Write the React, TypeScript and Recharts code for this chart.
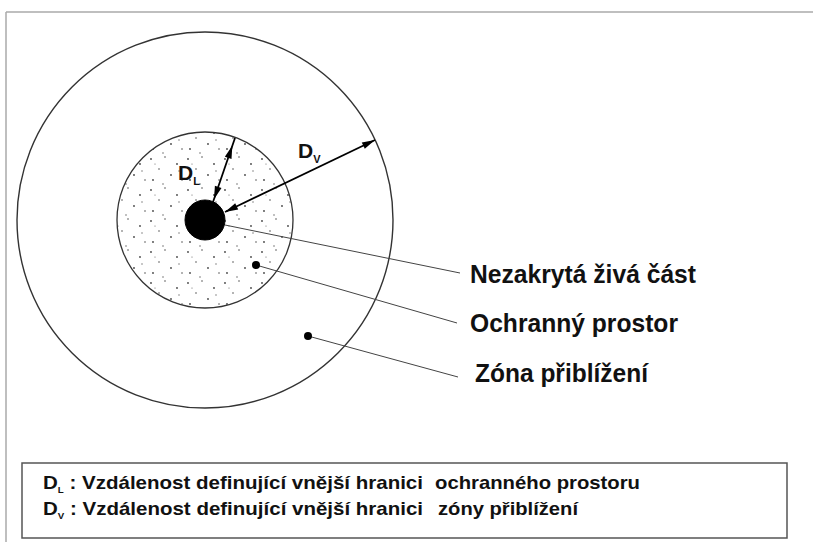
import { ScatterChart, Scatter, XAxis, YAxis, ReferenceLine, ReferenceArea } from 'recharts';

// diagram space: 1 unit = 1 px of the 813x542 picture, y runs downwards
const X_MAX = 813;
const Y_MAX = 542;
const W = 813;
const H = 542;
const unit = W / X_MAX;

const zones = [
  { name: 'Zóna přiblížení', x: 205, y: 220, r: 188 },
  { name: 'Ochranný prostor', x: 205, y: 220, r: 88 },
  { name: 'Nezakrytá živá část', x: 205, y: 220, r: 20 },
];

const dimensionArrows = [
  { id: 'DL', from: { x: 213, y: 202 }, to: { x: 235, y: 138 } },
  { id: 'DV', from: { x: 225, y: 212 }, to: { x: 375, y: 140 } },
];

const dimensionLabels = [
  { sym: 'D', sub: 'L', x: 178, y: 180 },
  { sym: 'D', sub: 'V', x: 298, y: 158 },
];

const leaders = [
  { from: { x: 225, y: 225 }, to: { x: 460, y: 273 } },
  { from: { x: 256, y: 265 }, to: { x: 457, y: 323 } },
  { from: { x: 308, y: 336 }, to: { x: 458, y: 377 } },
];

const pointerDots = [
  { x: 256, y: 265 },
  { x: 308, y: 336 },
];

const zoneLabels = [
  { text: 'Nezakrytá živá část', x: 470, y: 283 },
  { text: 'Ochranný prostor', x: 470, y: 332 },
  { text: 'Zóna přiblížení', x: 475, y: 382 },
];

const legendRows = [
  { sym: 'D', sub: 'L', desc: ' : Vzdálenost definující vnější hranici', target: 'ochranného prostoru', x: 43, y: 489 },
  { sym: 'D', sub: 'V', desc: ' : Vzdálenost definující vnější hranici', target: 'zóny přiblížení', x: 43, y: 515 },
];

const frame = [
  [{ x: 6, y: 12 }, { x: 6, y: 542 }],
  [{ x: 6, y: 12 }, { x: 813, y: 12 }],
];

const legendBox = { x1: 22, x2: 787, y1: 463, y2: 538 };

const FONT = '"Liberation Sans", Arial, Helvetica, sans-serif';
const labelWidths = [226, 208, 173];
const targetWidths = [205, 140];
const zoneStyles = [
  { fill: 'none', stroke: '#333', strokeWidth: 1.4 },
  { fill: 'url(#stipple)', stroke: '#333', strokeWidth: 1.3 },
  { fill: '#000', stroke: '#000', strokeWidth: 1 },
];
// how far each arrowhead sits back from its end: [from, to]
const arrowInset: Record<string, number[]> = { DL: [3, 8], DV: [0, 0] };

// each arrow end knows which way it points (away from the other end)
const arrowEnds = dimensionArrows.map((a) => [
  { x: a.from.x, y: a.from.y, dx: a.from.x - a.to.x, dy: a.from.y - a.to.y, inset: arrowInset[a.id][0] },
  { x: a.to.x, y: a.to.y, dx: a.to.x - a.from.x, dy: a.to.y - a.from.y, inset: arrowInset[a.id][1] },
]);

const leaderEnds = leaders.map((l) => [l.from, l.to]);

const Empty = () => <g />;

const ZoneShape = (props: any) => {
  const { cx, cy, payload, index } = props;
  const st = zoneStyles[index] || zoneStyles[0];
  return (
    <g>
      {index === 1 && (
        <defs>
          <pattern id="stipple" width="37" height="31" patternUnits="userSpaceOnUse">
            <rect width="37" height="31" fill="#fff" />
            <circle cx="3" cy="4" r="0.9" fill="#444" />
            <circle cx="17" cy="2" r="0.8" fill="#555" />
            <circle cx="29" cy="9" r="0.9" fill="#444" />
            <circle cx="11" cy="14" r="0.8" fill="#555" />
            <circle cx="23" cy="20" r="0.9" fill="#444" />
            <circle cx="34" cy="25" r="0.8" fill="#555" />
            <circle cx="5" cy="25" r="0.9" fill="#444" />
            <circle cx="15" cy="29" r="0.7" fill="#555" />
            <circle cx="31" cy="16" r="0.7" fill="#666" />
            <circle cx="7" cy="9" r="0.6" fill="#666" />
          </pattern>
        </defs>
      )}
      <circle cx={cx} cy={cy} r={payload.r * unit} {...st} />
    </g>
  );
};

const ArrowHead = (props: any) => {
  const { cx, cy, payload } = props;
  const len = Math.hypot(payload.dx, payload.dy) || 1;
  const ux = payload.dx / len;
  const uy = payload.dy / len;
  const hl = 13;
  const hw = 3.5;
  const tx = cx - ux * payload.inset;
  const ty = cy - uy * payload.inset;
  const bx = tx - ux * hl;
  const by = ty - uy * hl;
  const pts = `${tx},${ty} ${bx - uy * hw},${by + ux * hw} ${bx + uy * hw},${by - ux * hw}`;
  return <polygon points={pts} fill="#000" />;
};

const DimLabel = (props: any) => {
  const { cx, cy, payload } = props;
  return (
    <text x={cx} y={cy} fontFamily={FONT} fontWeight="bold" fill="#111" fontSize={21}>
      {payload.sym}
      <tspan dy={5} fontSize={11}>{payload.sub}</tspan>
    </text>
  );
};

const ZoneLabel = (props: any) => {
  const { cx, cy, payload, index } = props;
  return (
    <text
      x={cx}
      y={cy}
      fontFamily={FONT}
      fontWeight="bold"
      fontSize={25}
      fill="#111"
      textLength={labelWidths[index]}
      lengthAdjust="spacingAndGlyphs"
    >
      {payload.text}
    </text>
  );
};

const LegendRow = (props: any) => {
  const { cx, cy, payload, index } = props;
  return (
    <g fontFamily={FONT} fontWeight="bold" fill="#111" fontSize={19}>
      <text x={cx} y={cy} textLength={380} lengthAdjust="spacingAndGlyphs">
        {payload.sym}
        <tspan dy={4} fontSize={9}>{payload.sub}</tspan>
        <tspan dy={-4}>{payload.desc}</tspan>
      </text>
      <text
        x={cx + (index === 0 ? 392 : 395)}
        y={cy}
        textLength={targetWidths[index]}
        lengthAdjust="spacingAndGlyphs"
      >
        {payload.target}
      </text>
    </g>
  );
};

export default function App() {
  return (
    <div style={{ position: 'absolute', left: 0, top: 0, width: W, height: H, background: '#fff' }}>
      <ScatterChart width={W} height={H} margin={{ top: 0, right: 0, bottom: 0, left: 0 }}>
        <XAxis type="number" dataKey="x" domain={[0, X_MAX]} hide allowDataOverflow />
        <YAxis type="number" dataKey="y" domain={[0, Y_MAX]} reversed hide allowDataOverflow />
        {frame.map((seg, i) => (
          <ReferenceLine key={`f${i}`} segment={seg} stroke="#aaa" strokeWidth={1.5} ifOverflow="visible" />
        ))}
        <Scatter data={zones} shape={ZoneShape} isAnimationActive={false} />
        {leaderEnds.map((pts, i) => (
          <Scatter
            key={`l${i}`}
            data={pts}
            line={{ stroke: '#444', strokeWidth: 1 }}
            shape={Empty}
            isAnimationActive={false}
          />
        ))}
        {arrowEnds.map((pts, i) => (
          <Scatter
            key={`a${i}`}
            data={pts}
            line={{ stroke: '#000', strokeWidth: 1.8 }}
            shape={ArrowHead}
            isAnimationActive={false}
          />
        ))}
        <Scatter data={pointerDots} fill="#000" shape={(p: any) => <circle cx={p.cx} cy={p.cy} r={4} fill="#000" />} isAnimationActive={false} />
        <Scatter data={dimensionLabels} shape={DimLabel} isAnimationActive={false} />
        <Scatter data={zoneLabels} shape={ZoneLabel} isAnimationActive={false} />
        <ReferenceArea
          x1={legendBox.x1}
          x2={legendBox.x2}
          y1={legendBox.y1}
          y2={legendBox.y2}
          fill="none"
          fillOpacity={0}
          stroke="#555"
          strokeWidth={1.5}
          ifOverflow="visible"
        />
        <Scatter data={legendRows} shape={LegendRow} isAnimationActive={false} />
      </ScatterChart>
    </div>
  );
}
